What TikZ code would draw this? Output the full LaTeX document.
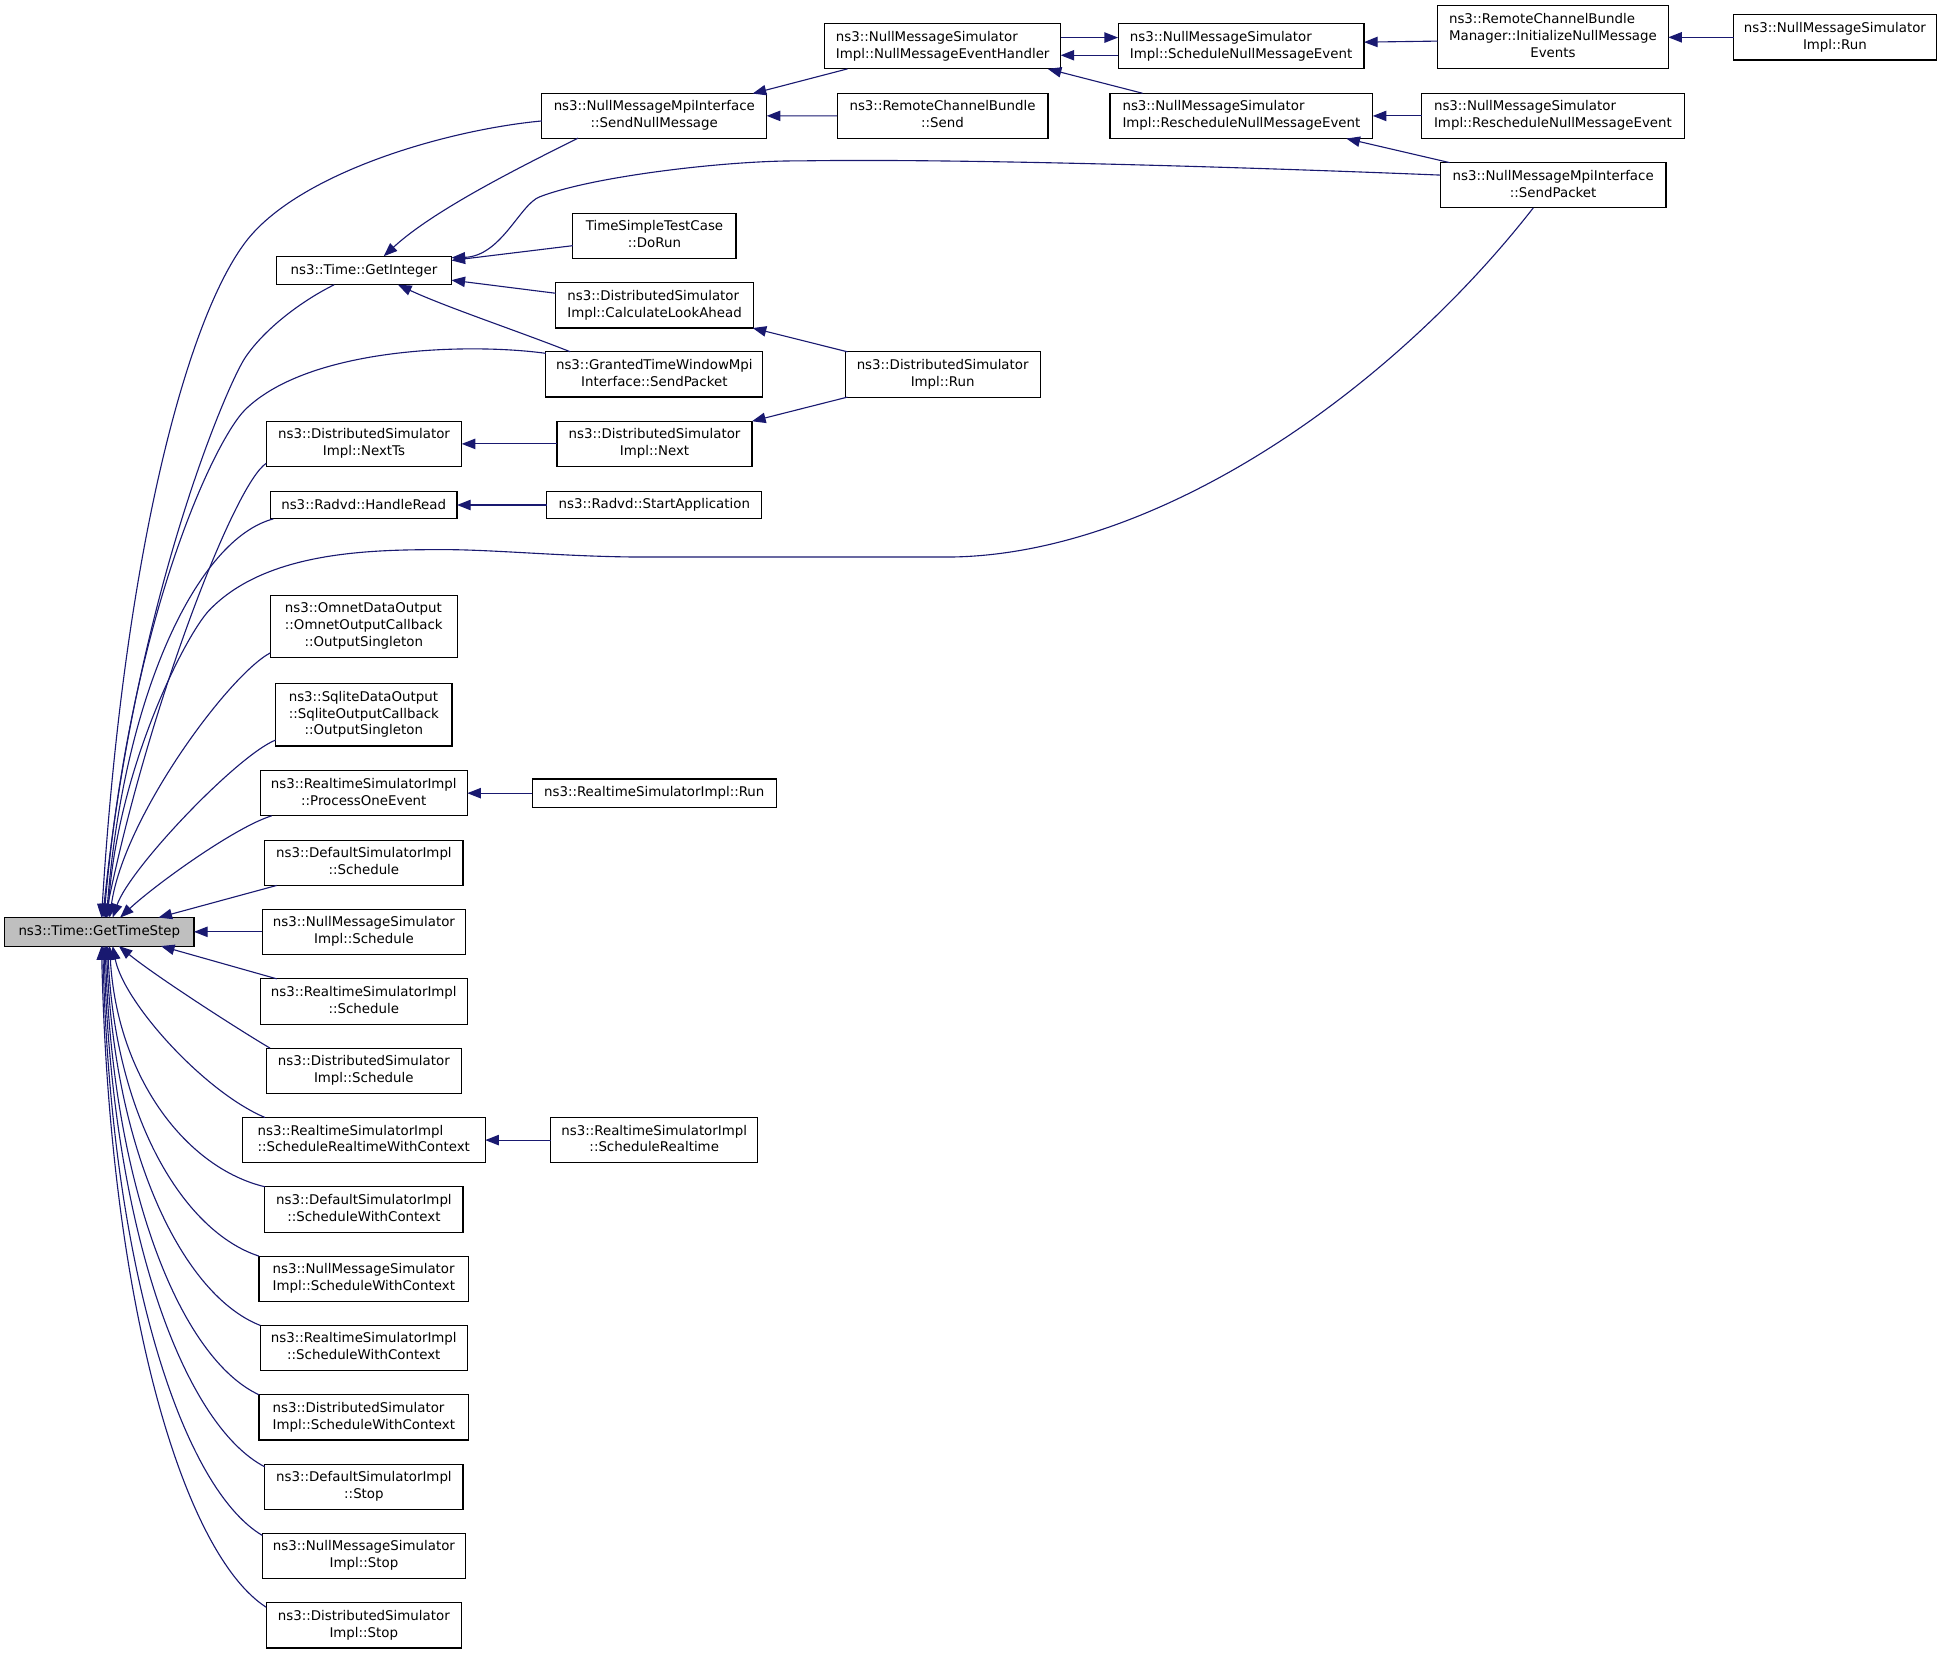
\documentclass[tikz,border=0pt]{standalone}
\usepackage{fontspec}
\setmainfont{DejaVu Sans}
\usetikzlibrary{arrows.meta}
\definecolor{edgeblue}{RGB}{25,25,112}
\definecolor{gtsfill}{RGB}{191,191,191}
\newcommand{\twol}[2]{\begin{tabular}{@{}l@{}}#1\\\multicolumn{1}{@{}c@{}}{#2}\end{tabular}}
\newcommand{\threel}[3]{\begin{tabular}{@{}l@{}}#1\\#2\\\multicolumn{1}{@{}c@{}}{#3}\end{tabular}}
\begin{document}
\begin{tikzpicture}[x=1pt,y=-1pt,
  fn/.style={draw=black, line width=0.9pt, inner sep=0pt, outer sep=0pt, minimum width=#1,
    font=\fontsize{10.8}{13.7}\selectfont, text=black},
  h1/.style={minimum height=23pt},
  h2/.style={minimum height=36.6pt},
  h3/.style={minimum height=50.6pt},
  lnk/.style={draw=edgeblue, line width=0.9pt, -{Triangle[length=11pt,width=8.4pt]}}]
\useasboundingbox (0,0) rectangle (1568,1335.3);

% ---------- nodes ----------
\node[fn=152.9pt,h1,fill=gtsfill] (gts) at (80.25,752.75) {ns3::Time::GetTimeStep};
\node[fn=141.3pt,h1] (gi) at (294.05,218.5) {ns3::Time::GetInteger};
\node[fn=181.7pt,minimum height=36pt] (snm) at (528.55,93.6) {\twol{ns3::NullMessageMpiInterface}{::SendNullMessage}};
\node[fn=190.6pt,h2] (nmeh) at (761.5,37.35) {\twol{ns3::NullMessageSimulator}{Impl::NullMessageEventHandler}};
\node[fn=198.7pt,h2] (snme) at (1002.55,37.35) {\twol{ns3::NullMessageSimulator}{Impl::ScheduleNullMessageEvent}};
\node[fn=186.4pt,h3] (inme) at (1254.5,30) {\threel{ns3::RemoteChannelBundle}{Manager::InitializeNullMessage}{Events}};
\node[fn=163.4pt,h2] (nmsrun) at (1482.3,30.15) {\twol{ns3::NullMessageSimulator}{Impl::Run}};
\node[fn=170.4pt,h2] (rcbs) at (761.4,93.65) {\twol{ns3::RemoteChannelBundle}{::Send}};
\node[fn=212.3pt,h2] (rnmea) at (1002.85,93.65) {\twol{ns3::NullMessageSimulator}{Impl::RescheduleNullMessageEvent}};
\node[fn=212.3pt,h2] (rnmeb) at (1254.5,93.65) {\twol{ns3::NullMessageSimulator}{Impl::RescheduleNullMessageEvent}};
\node[fn=182.2pt,h2] (nmsp) at (1254.7,149.65) {\twol{ns3::NullMessageMpiInterface}{::SendPacket}};
\node[fn=131.8pt,h2] (dorun) at (528.7,190.45) {\twol{TimeSimpleTestCase}{::DoRun}};
\node[fn=159.9pt,h2] (cla) at (528.75,246.7) {\twol{ns3::DistributedSimulator}{Impl::CalculateLookAhead}};
\node[fn=175.2pt,h2] (gtw) at (528.6,302.45) {\twol{ns3::GrantedTimeWindowMpi}{Interface::SendPacket}};
\node[fn=157.6pt,h2] (dsrun) at (761.5,302.5) {\twol{ns3::DistributedSimulator}{Impl::Run}};
\node[fn=157.9pt,h2] (nextts) at (294.05,358.6) {\twol{ns3::DistributedSimulator}{Impl::NextTs}};
\node[fn=157.5pt,h2] (next) at (528.75,358.6) {\twol{ns3::DistributedSimulator}{Impl::Next}};
\node[fn=150.8pt,minimum height=22.5pt] (hr) at (293.8,407.95) {ns3::Radvd::HandleRead};
\node[fn=173.5pt,minimum height=22.5pt] (sa) at (528.55,407.95) {ns3::Radvd::StartApplication};
\node[fn=151pt,h3] (omnet) at (293.9,506.1) {\threel{ns3::OmnetDataOutput}{::OmnetOutputCallback}{::OutputSingleton}};
\node[fn=142.4pt,h3] (sqlite) at (293.9,577.3) {\threel{ns3::SqliteDataOutput}{::SqliteOutputCallback}{::OutputSingleton}};
\node[fn=167.2pt,h2] (poe) at (293.9,640.75) {\twol{ns3::RealtimeSimulatorImpl}{::ProcessOneEvent}};
\node[fn=197pt,h1] (rtrun) at (528.5,640.75) {ns3::RealtimeSimulatorImpl::Run};
\node[fn=160pt,h2] (dsched) at (294,697) {\twol{ns3::DefaultSimulatorImpl}{::Schedule}};
\node[fn=164pt,h2] (nsched) at (294,752.75) {\twol{ns3::NullMessageSimulator}{Impl::Schedule}};
\node[fn=167.2pt,h2] (rsched) at (293.9,809) {\twol{ns3::RealtimeSimulatorImpl}{::Schedule}};
\node[fn=157.6pt,h2] (disched) at (293.9,865) {\twol{ns3::DistributedSimulator}{Impl::Schedule}};
\node[fn=196.2pt,h2] (srwc) at (293.9,921) {\twol{ns3::RealtimeSimulatorImpl}{::ScheduleRealtimeWithContext}};
\node[fn=167pt,h2] (srt) at (528.5,921) {\twol{ns3::RealtimeSimulatorImpl}{::ScheduleRealtime}};
\node[fn=160pt,h2] (dswc) at (294,977) {\twol{ns3::DefaultSimulatorImpl}{::ScheduleWithContext}};
\node[fn=169.4pt,h2] (nswc) at (293.9,1033) {\twol{ns3::NullMessageSimulator}{Impl::ScheduleWithContext}};
\node[fn=167.2pt,h2] (rswc) at (293.9,1089) {\twol{ns3::RealtimeSimulatorImpl}{::ScheduleWithContext}};
\node[fn=169.4pt,h2] (diswc) at (293.9,1145) {\twol{ns3::DistributedSimulator}{Impl::ScheduleWithContext}};
\node[fn=160pt,h2] (dstop) at (294,1201) {\twol{ns3::DefaultSimulatorImpl}{::Stop}};
\node[fn=164pt,h2] (nstop) at (294,1257) {\twol{ns3::NullMessageSimulator}{Impl::Stop}};
\node[fn=157.6pt,h2] (distop) at (293.9,1313) {\twol{ns3::DistributedSimulator}{Impl::Stop}};

% ---------- edges into GetTimeStep (from above) ----------
\draw[lnk] ([yshift=-4.1pt]snm.west) .. controls (360,105) and (240,140) .. (198,196)
  .. controls (150,260) and (100,450) .. ([xshift=78.2pt]gts.north west);
\draw[lnk] ([xshift=46.6pt]gi.south west) .. controls (240,245) and (212,268) .. (198,289)
  .. controls (184,310) and (110,480) .. ([xshift=79.2pt]gts.north west);
\draw[lnk] ([yshift=-1.3pt]gtw.north west) .. controls (380,277) and (250,280) .. (198,331)
  .. controls (173,356) and (105,500) .. ([xshift=80.2pt]gts.north west);
\draw[lnk] ([yshift=2.6pt]nextts.south west) .. controls (190,390) and (120,570) .. ([xshift=81.2pt]gts.north west);
\draw[lnk] ([xshift=2.4pt]hr.south west) .. controls (160,435) and (100,560) .. ([xshift=82.2pt]gts.north west);
\draw[lnk] ([xshift=75pt]nmsp.south west) .. controls (1120,320) and (930,450) .. (764,450) -- (521,450)
  .. controls (460,450) and (400,444) .. (359,444)
  .. controls (300,444) and (215,445) .. (169,493)
  .. controls (150,513) and (95,620) .. ([xshift=83.2pt]gts.north west);
\draw[lnk] ([yshift=4pt]omnet.south west) .. controls (185,545) and (100,660) .. ([xshift=84.7pt]gts.north west);
\draw[lnk] ([yshift=4.8pt]sqlite.south west) .. controls (192,610) and (105,701) .. ([xshift=87.2pt]gts.north west);
\draw[lnk] ([xshift=9.2pt]poe.south west) .. controls (190,668) and (125,715) .. ([xshift=93.2pt]gts.north west);
\draw[lnk] ([xshift=9.5pt]dsched.south west) -- ([xshift=124.2pt]gts.north west);
\draw[lnk] (nsched.west) -- (gts.east);

% ---------- edges into GetTimeStep (from below) ----------
\draw[lnk] ([xshift=13.2pt]rsched.north west) -- ([xshift=126.2pt]gts.south west);
\draw[lnk] ([xshift=3pt]disched.north west) .. controls (190,830) and (125,788) .. ([xshift=92.2pt]gts.south west);
\draw[lnk] ([xshift=18.2pt]srwc.north west) .. controls (165,882) and (100,810) .. ([xshift=87.2pt]gts.south west);
\draw[lnk] (dswc.north west) .. controls (151.3,943.8) and (94.8,871.6) .. ([xshift=84.7pt]gts.south west);
\draw[lnk] (nswc.north west) .. controls (148.1,994.9) and (93.1,902.1) .. ([xshift=83.2pt]gts.south west);
\draw[lnk] (rswc.north west) .. controls (148.2,1046.5) and (92.2,932.9) .. ([xshift=82.2pt]gts.south west);
\draw[lnk] (diswc.north west) .. controls (147.1,1098) and (91.2,963.7) .. ([xshift=81.2pt]gts.south west);
\draw[lnk] ([yshift=-2.3pt]dstop.north west) .. controls (149,1151.3) and (90.5,995.6) .. ([xshift=80.2pt]gts.south west);
\draw[lnk] ([yshift=-1.7pt]nstop.north west) .. controls (147.5,1202.3) and (89.5,1026.1) .. ([xshift=79.2pt]gts.south west);
\draw[lnk] ([yshift=-3.7pt]distop.north west) .. controls (148.7,1255.7) and (88.7,1058) .. ([xshift=78.2pt]gts.south west);

% ---------- edges into GetInteger ----------
\draw[lnk] ([xshift=29.3pt]snm.south west) .. controls (420,135) and (350,170) .. ([xshift=86.6pt]gi.north west);
\draw[lnk] ([yshift=-10.1pt]nmsp.north west) .. controls (980,134) and (760,128) .. (646,130)
  .. controls (590,129.5) and (480,142) .. (436,159)
  .. controls (420,165) and (405,207) .. ([yshift=-1.2pt]gi.north east);
\draw[lnk] ([yshift=-8pt]dorun.west) -- ([yshift=-3.4pt]gi.north east);
\draw[lnk] ([yshift=-8.5pt]cla.north west) -- ([yshift=3.7pt]gi.south east);
\draw[lnk] ([xshift=19.6pt]gtw.north west) .. controls (420,268) and (360,248) .. ([xshift=-43.2pt]gi.south east);

% ---------- other edges ----------
\draw[lnk] ([xshift=18.4pt]nmeh.south west) -- ([xshift=-11.4pt]snm.north east);
\draw[lnk] (rcbs.west) -- (snm.east);
\draw[lnk] ([yshift=7pt]nmeh.east) -- ([yshift=7pt]snme.west);
\draw[lnk] ([yshift=-7.3pt]snme.west) -- ([yshift=-7.3pt]nmeh.east);
\draw[lnk] ([xshift=26.3pt]rnmea.north west) -- ([xshift=-10.4pt]nmeh.south east);
\draw[lnk] ([yshift=-3.2pt]inme.west) -- ([yshift=-15pt]snme.north east);
\draw[lnk] (nmsrun.west) -- (nmsrun.west -| inme.east);
\draw[lnk] (rnmeb.west) -- (rnmea.east);
\draw[lnk] ([xshift=7.4pt]nmsp.north west) -- ([xshift=-21.4pt]rnmea.south east);
\draw[lnk] ([xshift=1.9pt]dsrun.north west) -- ([xshift=-0.7pt]cla.south east);
\draw[lnk] ([xshift=1.9pt]dsrun.south west) -- (next.north east);
\draw[lnk] (next.west) -- (nextts.east);
\draw[lnk] (sa.west) -- (hr.east);
\draw[lnk] (rtrun.west) -- (poe.east);
\draw[lnk] (srt.west) -- (srwc.east);
\end{tikzpicture}
\end{document}
